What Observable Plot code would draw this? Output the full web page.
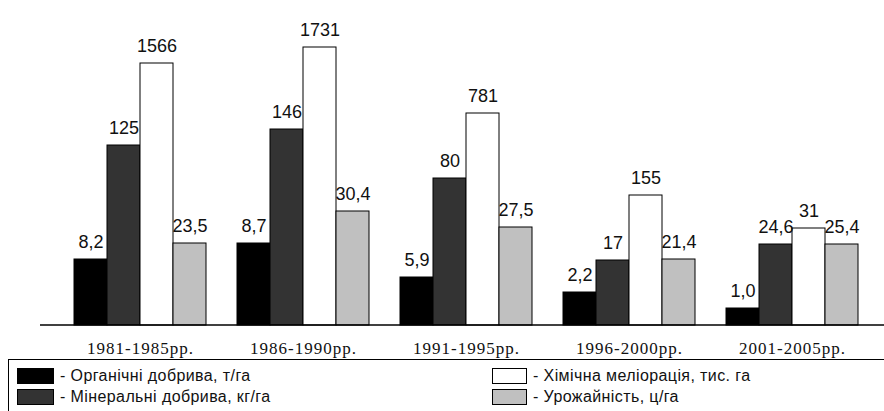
<!DOCTYPE html>
<html>
<head>
<meta charset="utf-8">
<script src="https://cdn.jsdelivr.net/npm/d3@7"></script>
<script src="https://cdn.jsdelivr.net/npm/@observablehq/plot@0.6"></script>
<style>
  html, body { margin: 0; padding: 0; background: #fff; }
  #wrap { position: relative; width: 884px; height: 411px; overflow: hidden; }
  #legend { position: absolute; left: 8px; top: 359px; width: 900px; height: 80px; border: 1px solid #000; box-sizing: border-box; }
  .item { position: absolute; display: flex; align-items: center; font-family: "Liberation Sans", Arial, sans-serif; font-size: 16px; letter-spacing: 0.4px; color: #111; }
  .sw { width: 33px; height: 14px; border: 1px solid #000; margin-right: 6px; }
</style>
</head>
<body>
<div id="wrap">
  <div id="chart"></div>
  <div id="legend"></div>
</div>
<script>
// Periods (x categories)
const periods = ["1981-1985рр.", "1986-1990рр.", "1991-1995рр.", "1996-2000рр.", "2001-2005рр."];
// Series names
const seriesNames = ["Органічні добрива, т/га", "Мінеральні добрива, кг/га", "Хімічна меліорація, тис. га", "Урожайність, ц/га"];
// Labelled values
const organicValues = [8.2, 8.7, 5.9, 2.2, 1.0];
const mineralValues = [125, 146, 80, 17, 24.6];
const reclamationValues = [1566, 1731, 781, 155, 31];
const yieldValues = [23.5, 30.4, 27.5, 21.4, 25.4];
// Drawn bar heights (relative units; the original is not to scale)
const organicBar = [66, 82, 48, 33, 17];
const mineralBar = [180, 196, 147, 65, 81];
const reclamationBar = [262, 278, 212, 130, 97];
const yieldBar = [82, 114, 98, 66, 81];
// Fixed-decimal series
const oneDecimal = [true, false, false, true];
const seriesColors = ["#000000", "#333333", "#ffffff", "#c0c0c0"];

const valueSets = [organicValues, mineralValues, reclamationValues, yieldValues];
const barSets = [organicBar, mineralBar, reclamationBar, yieldBar];

const fmt = (v, s) => (oneDecimal[s] ? v.toFixed(1) : String(v)).replace(".", ",");

const rows = [];
periods.forEach((p, i) => {
  seriesNames.forEach((s, j) => {
    rows.push({period: p, series: s, value: valueSets[j][i], h: barSets[j][i], label: fmt(valueSets[j][i], j)});
  });
});

const chart = Plot.plot({
  width: 884,
  height: 358,
  marginLeft: 74,
  marginRight: 25,
  marginTop: 25,
  marginBottom: 33,
  facet: {data: rows, x: "period", label: null},
  fx: {domain: periods, paddingInner: 0.19, paddingOuter: 0, axis: null, label: null},
  x: {domain: seriesNames, padding: 0, axis: null},
  y: {domain: [0, 300], axis: null},
  color: {domain: seriesNames, range: seriesColors},
  marks: [
    Plot.barY(rows, {x: "series", y: "h", fill: "series", stroke: "#000", strokeWidth: 1, inset: 0}),
    Plot.text(rows, {x: "series", y: "h", text: "label", lineAnchor: "bottom", dy: -12,
      fontFamily: "Liberation Sans, Arial, sans-serif", fontSize: 18, fill: "#111"}),
    Plot.text(rows, Plot.selectFirst({text: "period", frameAnchor: "bottom", lineAnchor: "middle", dy: 23,
      fontFamily: "Liberation Serif, Times New Roman, serif", fontSize: 17, fill: "#111"}))
  ]
});
document.getElementById("chart").appendChild(chart);

// baseline across the whole chart
const y0 = chart.scale("y").apply(0);
d3.select(chart).append("line")
  .attr("x1", 40).attr("x2", 884)
  .attr("y1", y0).attr("y2", y0)
  .attr("stroke", "#000").attr("stroke-width", 1.5);

// serif period labels letter spacing
d3.select(chart).selectAll("text").filter(function() { return periods.includes(this.textContent); })
  .style("letter-spacing", "1px");

// legend
const legend = document.getElementById("legend");
const pos = [[8, 8], [8, 29], [483, 8], [483, 29]];
seriesNames.forEach((s, j) => {
  const it = document.createElement("div");
  it.className = "item";
  it.style.left = pos[j][0] + "px";
  it.style.top = (pos[j][1] - 1) + "px";
  const sw = document.createElement("div");
  sw.className = "sw";
  sw.style.background = seriesColors[j];
  if (j < 2) sw.style.width = "35px";
  it.appendChild(sw);
  const t = document.createElement("span");
  t.textContent = "- " + s;
  it.appendChild(t);
  legend.appendChild(it);
});
</script>
</body>
</html>
